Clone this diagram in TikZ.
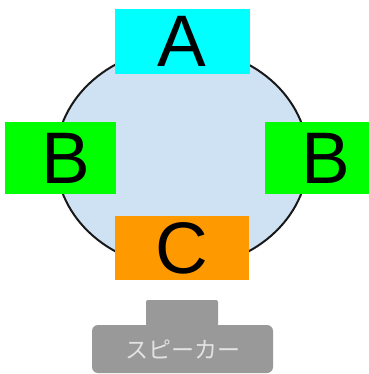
\documentclass[tikz,border=0pt]{standalone}
\usepackage{fontspec}
\setmainfont{Liberation Sans}
\newfontfamily\jpfont{Noto Sans CJK JP}
\usetikzlibrary{positioning,shapes.geometric}
\definecolor{bodyblue}{HTML}{CFE2F3}
\definecolor{micA}{HTML}{00FFFF}
\definecolor{micB}{HTML}{00FF00}
\definecolor{micC}{HTML}{FF9900}
\definecolor{spkgray}{HTML}{999999}
\definecolor{spktext}{HTML}{E2E2E2}

\begin{document}
\begin{tikzpicture}[x=1pt,y=-1pt,
  tag/.style={inner sep=0pt,font=\fontsize{73}{73}\selectfont,text=black},
  abox/.style={tag,fill=micA,minimum width=135pt,minimum height=65pt},
  bbox/.style={tag,fill=micB,minimum width=111pt,minimum height=72pt},
  cbox/.style={tag,fill=micC,minimum width=134pt,minimum height=64pt}]
  \useasboundingbox[fill=white] (0,0) rectangle (368,374);
  % body of the instrument
  \node[draw=black!90,line width=2pt,fill=bodyblue,ellipse,
        minimum width=252pt,minimum height=220pt,inner sep=0pt] (body) at (182,158) {};
  % pickups
  \node[abox] (a) at (182,41.5) {A};
  \node[bbox] (bl) at (60.5,158) {\hspace*{11pt}B};
  \node[bbox] (br) at (320.5,158) {\hspace*{11pt}B};
  \node[cbox] (c) at (182,248) {C};
  % speaker
  \node[fill=spkgray,rounded corners=2pt,minimum width=72pt,minimum height=26pt,
        inner sep=0pt] (stand) at (182,313) {};
  \node[fill=spkgray,rounded corners=6pt,minimum width=181pt,minimum height=48pt,
        inner sep=0pt,text=spktext,font=\jpfont\fontsize{23}{23}\selectfont]
        (speaker) at (182.5,349) {スピーカー};
\end{tikzpicture}
\end{document}
